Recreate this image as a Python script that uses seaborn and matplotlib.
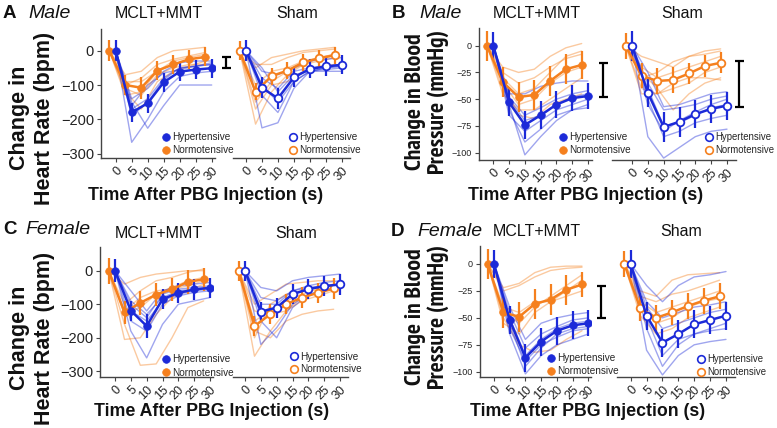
import numpy as np
import pandas as pd
import matplotlib
matplotlib.use("Agg")
import matplotlib.pyplot as plt
import seaborn as sns
from matplotlib import font_manager
from matplotlib.lines import Line2D
import matplotlib.transforms as mtrans

# ---------------- data ----------------
times = [0, 5, 10, 15, 20, 25, 30]
time_labels = ["0", "5", "10", "15", "20", "25", "30"]

hr_ticks = [0, -100, -200, -300]
hr_tick_labels = ["0", "\u2212100", "\u2212200", "\u2212300"]
bp_ticks = [0, -25, -50, -75, -100]
bp_tick_labels = ["0", "\u221225", "\u221250", "\u221275", "\u2212100"]

# Panel A: male heart rate
a_mclt_hyp = [0, -180, -153, -92, -61, -55, -51]
a_mclt_hyp_err = [30, 27, 28, 28, 27, 28, 28]
a_mclt_nor = [0, -100, -108, -58, -40, -25, -18]
a_mclt_nor_err = [30, 30, 32, 28, 28, 28, 28]
a_sham_hyp = [0, -108, -139, -78, -53, -46, -41]
a_sham_hyp_err = [30, 30, 30, 28, 28, 28, 28]
a_sham_nor = [0, -120, -74, -58, -34, -22, -13]
a_sham_nor_err = [27, 25, 25, 25, 25, 25, 25]
a_mclt_hyp_ind = [[0, -267, -200, -120, -75, -65, -60],
                  [0, -150, -226, -160, -100, -100, -100],
                  [0, -170, -140, -80, -50, -45, -40],
                  [0, -140, -110, -60, -35, -30, -30],
                  [0, -190, -150, -85, -50, -45, -35],
                  [0, -160, -100, -65, -55, -45, -40]]
a_mclt_nor_ind = [[0, -70, -60, -20, 0, 5, 10],
                  [0, -120, -170, -90, -60, -45, -30],
                  [0, -100, -80, -40, -25, -15, -5],
                  [0, -110, -130, -70, -50, -40, -40],
                  [0, -90, -90, -60, -40, -25, -20],
                  [0, -130, -120, -60, -30, -20, -10]]
a_sham_hyp_ind = [[0, -225, -210, -110, -60, -50, -45],
                  [0, -60, -70, -50, -30, -25, -20],
                  [0, -100, -150, -90, -60, -50, -45],
                  [0, -130, -180, -90, -60, -55, -50],
                  [0, -80, -110, -60, -50, -45, -40],
                  [0, -50, -120, -70, -60, -60, -60]]
a_sham_nor_ind = [[0, -214, -120, -70, -40, -20, -10],
                  [0, -50, -20, -10, 0, 5, 10],
                  [0, -150, -90, -60, -40, -30, -20],
                  [0, -100, -60, -50, -30, -20, -10],
                  [0, -170, -100, -90, -60, -45, -40],
                  [0, -40, -40, -20, -5, 0, 5]]

# Panel B: male blood pressure
b_mclt_hyp = [0, -53, -74, -65, -55, -49, -47]
b_mclt_hyp_err = [13, 13, 13, 13, 13, 12, 12]
b_mclt_nor = [0, -34, -48, -46, -33, -22, -18]
b_mclt_nor_err = [14, 14, 14, 14, 14, 14, 13]
b_sham_hyp = [0, -44, -76, -71, -64, -59, -56]
b_sham_hyp_err = [14, 13, 14, 14, 13, 13, 13]
b_sham_nor = [0, -28, -33, -32, -26, -19, -16]
b_sham_nor_err = [12, 12, 12, 12, 10, 10, 10]
b_mclt_hyp_ind = [[0, -45, -45, -38, -35, -33, -33],
                  [0, -55, -102, -85, -70, -60, -55],
                  [0, -50, -70, -65, -55, -48, -45],
                  [0, -60, -90, -78, -65, -60, -58],
                  [0, -48, -65, -58, -50, -45, -42],
                  [0, -65, -80, -70, -60, -55, -50]]
b_mclt_nor_ind = [[0, -20, -25, -22, -10, -2, 2],
                  [0, -40, -65, -68, -55, -50, -45],
                  [0, -30, -45, -40, -25, -10, -5],
                  [0, -35, -55, -50, -35, -25, -20],
                  [0, -25, -35, -30, -20, -12, -8],
                  [0, -45, -60, -60, -50, -40, -30]]
b_sham_hyp_ind = [[0, -25, -57, -55, -50, -45, -43],
                  [0, -85, -105, -95, -85, -80, -78],
                  [0, -40, -75, -72, -65, -58, -55],
                  [0, -50, -85, -80, -72, -68, -65],
                  [0, -35, -60, -58, -55, -50, -47],
                  [0, -55, -80, -70, -62, -55, -50]]
b_sham_nor_ind = [[0, -10, -15, -20, -10, -5, -3],
                  [0, -25, -40, -60, -45, -35, -30],
                  [0, -20, -30, -25, -20, -15, -10],
                  [0, -40, -45, -40, -35, -25, -20],
                  [0, -30, -25, -15, -10, -8, -5],
                  [0, -45, -45, -35, -30, -30, -32]]

# Panel C: female heart rate
c_mclt_hyp = [0, -119, -165, -85, -66, -56, -51]
c_mclt_hyp_err = [35, 30, 35, 30, 30, 30, 30]
c_mclt_nor = [0, -124, -96, -71, -56, -33, -26]
c_mclt_nor_err = [39, 35, 35, 35, 35, 35, 35]
c_sham_hyp = [0, -122, -110, -70, -55, -46, -41]
c_sham_hyp_err = [30, 30, 30, 30, 30, 30, 30]
c_sham_nor = [0, -165, -130, -100, -80, -66, -53]
c_sham_nor_err = [30, 30, 30, 30, 30, 30, 30]
c_mclt_hyp_ind = [[0, -60, -120, -60, -45, -40, -35],
                  [0, -180, -260, -160, -100, -90, -80],
                  [0, -120, -150, -90, -70, -60, -55],
                  [0, -100, -140, -70, -55, -50, -45],
                  [0, -150, -180, -100, -75, -65, -60],
                  [0, -90, -130, -80, -60, -55, -50]]
c_mclt_nor_ind = [[0, -40, -20, -10, -5, 0, 0],
                  [0, -205, -200, -130, -80, -60, -40],
                  [0, -160, -282, -278, -200, -110, -90],
                  [0, -100, -60, -30, -20, -5, 5],
                  [0, -130, -110, -70, -50, -30, -20],
                  [0, -120, -80, -60, -55, -45, -30]]
c_sham_hyp_ind = [[0, -50, -60, -30, -20, -15, -10],
                  [0, -220, -170, -100, -70, -60, -50],
                  [0, -150, -200, -110, -70, -60, -55],
                  [0, -100, -100, -60, -45, -35, -30],
                  [0, -130, -110, -70, -55, -45, -40],
                  [0, -80, -90, -60, -50, -45, -45]]
c_sham_nor_ind = [[0, -255, -180, -120, -90, -75, -60],
                  [0, -100, -70, -40, -35, -30, -30],
                  [0, -180, -200, -150, -130, -120, -115],
                  [0, -150, -120, -90, -70, -55, -45],
                  [0, -200, -100, -70, -60, -50, -40],
                  [0, -120, -130, -120, -80, -65, -50]]

# Panel D: female blood pressure
d_mclt_hyp = [0, -52, -87, -72, -62, -57, -55]
d_mclt_hyp_err = [13, 13, 13, 13, 13, 13, 12]
d_mclt_nor = [0, -45, -49, -37, -33, -24, -19]
d_mclt_nor_err = [14, 14, 14, 14, 14, 14, 12]
d_sham_hyp = [0, -48, -73, -65, -56, -52, -48]
d_sham_hyp_err = [13, 13, 13, 13, 13, 13, 13]
d_sham_nor = [0, -41, -50, -45, -39, -34, -30]
d_sham_nor_err = [12, 12, 12, 12, 12, 12, 12]
d_mclt_hyp_ind = [[0, -40, -70, -55, -50, -47, -45],
                  [0, -65, -102, -85, -75, -70, -65],
                  [0, -50, -85, -70, -60, -55, -53],
                  [0, -55, -95, -78, -65, -60, -58],
                  [0, -45, -78, -65, -58, -52, -50],
                  [0, -60, -90, -75, -68, -62, -60]]
d_mclt_nor_ind = [[0, -22, -18, -8, -3, -2, -2],
                  [0, -25, -20, -12, -6, -4, -3],
                  [0, -50, -75, -82, -80, -70, -62],
                  [0, -45, -55, -40, -30, -20, -10],
                  [0, -55, -65, -45, -35, -30, -25],
                  [0, -40, -45, -35, -35, -25, -15]]
d_sham_hyp_ind = [[0, -20, -35, -20, -12, -10, -7],
                  [0, -80, -103, -85, -75, -72, -70],
                  [0, -50, -85, -70, -65, -60, -55],
                  [0, -40, -60, -55, -50, -45, -42],
                  [0, -60, -95, -75, -65, -62, -60],
                  [0, -35, -50, -45, -40, -38, -35]]
d_sham_nor_ind = [[0, -25, -30, -15, -10, -9, -8],
                  [0, -48, -65, -60, -50, -45, -40],
                  [0, -35, -45, -40, -35, -30, -25],
                  [0, -40, -55, -50, -40, -35, -32],
                  [0, -30, -35, -28, -25, -20, -15]]

# significance brackets (value range)
a_sig = [-18, -51]
b_mclt_sig = [-16, -48]
b_sham_sig = [-14, -57]
d_mclt_sig = [-20, -50]

# ---------------- style ----------------
sns.set_theme(style="white")
bold_names = {f.name for f in font_manager.fontManager.ttflist
              if (isinstance(f.weight, int) and f.weight >= 700) or str(f.weight) in ("bold", "700", "800")}
NARROW = "Liberation Sans"
for cand in ["Liberation Sans Narrow", "Arial Narrow", "PT Sans Narrow", "Roboto Condensed",
             "Archivo Narrow", "Asap Condensed", "Barlow Condensed"]:
    if cand in bold_names:
        NARROW = cand
        break
HAS_NARROW = NARROW != "Liberation Sans"
plt.rcParams["font.family"] = ["Liberation Sans", "DejaVu Sans"]

BLUE = "#1c2ad8"
ORANGE = "#f5801e"
AXC = "#444444"

W, H = 777, 428
fig = plt.figure(figsize=(W / 100, H / 100), dpi=100)


def rect(x0, y0, x1, y1):
    return [x0 / W, 1 - y1 / H, (x1 - x0) / W, (y1 - y0) / H]


def fx(x):
    return x / W


def fy(y):
    return 1 - y / H


def draw(box, p0, p30, ylim, yticks, yticklabels, ytfs, sham, hyp, hyp_err, hyp_ind, nor, nor_err, nor_ind):
    ax = fig.add_axes(rect(*box))
    s = (p30 - p0) / 30.0
    ax.set_xlim((box[0] - p0) / s, (box[2] - p0) / s)
    ax.set_ylim(*ylim)
    groups = [(nor_ind, nor, nor_err, ORANGE, -2), (hyp_ind, hyp, hyp_err, BLUE, 0)]
    for ind, mean, err, col, off in groups:
        rows = [(i, t + off, v) for i, r in enumerate(ind) for t, v in zip(times, r)]
        df = pd.DataFrame(rows, columns=["unit", "x", "y"])
        sns.lineplot(data=df, x="x", y="y", units="unit", estimator=None, color=col,
                     alpha=0.42, lw=1.0, ax=ax, legend=False, zorder=1)
    for ind, mean, err, col, off in groups:
        xs = [t + off for t in times]
        ax.errorbar(xs, mean, yerr=err, fmt="none", ecolor=col, elinewidth=1.6, zorder=3)
        sns.lineplot(x=xs, y=mean, color=col, lw=1.8, marker="o", markersize=5.5,
                     markerfacecolor=("white" if sham else col), markeredgecolor=col,
                     markeredgewidth=(1.3 if sham else 0.5), ax=ax, zorder=4, legend=False)
    ax.set_xlabel("")
    ax.set_ylabel("")
    for sp in ["top", "right"]:
        ax.spines[sp].set_visible(False)
    ax.spines["bottom"].set_color(AXC)
    ax.spines["bottom"].set_linewidth(1.0)
    ax.set_xticks(times)
    ax.set_xticklabels(time_labels, rotation=45, ha="right", va="top",
                       rotation_mode="anchor", fontsize=9, color="#222222")
    if sham:
        ax.spines["left"].set_visible(False)
        ax.set_yticks([])
        ax.tick_params(axis="x", bottom=True, length=3, width=0.8, color=AXC, pad=2)
    else:
        ax.spines["left"].set_color(AXC)
        ax.spines["left"].set_linewidth(1.0)
        ax.set_yticks(yticks)
        ax.set_yticklabels(yticklabels, fontsize=ytfs, color="#222222")
        ax.tick_params(axis="both", bottom=True, left=True, length=3, width=0.8, color=AXC, pad=2)
    ax.patch.set_alpha(0)
    return ax


def legend(ax, sham, mx, my, fs=7.2):
    handles = []
    for col, lab in [(BLUE, "Hypertensive"), (ORANGE, "Normotensive")]:
        handles.append(Line2D([], [], ls="none", marker="o", ms=5.5,
                              mfc=("white" if sham else col), mec=col,
                              mew=(1.2 if sham else 0.5), label=lab))
    ax.legend(handles=handles, loc="center left", bbox_to_anchor=(fx(mx - 4), fy(my)),
              bbox_transform=fig.transFigure, frameon=False, fontsize=fs,
              handlelength=0.8, handletextpad=0.25, labelspacing=0.3,
              borderpad=0, borderaxespad=0)


def sig(ax, px, vals, box):
    tr = mtrans.blended_transform_factory(ax.transAxes, ax.transData)
    xa = (px - box[0]) / (box[2] - box[0])
    dx = 4.5 / (box[2] - box[0])
    lo, hi = vals
    kw = dict(transform=tr, clip_on=False, color="black", lw=1.6, solid_capstyle="butt")
    ax.plot([xa, xa], [lo, hi], **kw)
    ax.plot([xa - dx, xa + dx], [lo, lo], **kw)
    ax.plot([xa - dx, xa + dx], [hi, hi], **kw)


# boxes (pixels): x0, y0, x1, y1
A_M = (101, 29, 215, 158)
A_S = (233, 29, 350, 158)
B_M = (479, 28, 592, 160)
B_S = (612, 28, 736, 160)
C_M = (100, 247, 213, 377)
C_S = (233, 247, 348, 377)
D_M = (480, 246, 591, 377)
D_S = (617, 246, 735, 377)

ylA = (-312.8, 63.3)
ylB = (-106.8, 16.5)
ylC = (-317.0, 70.7)
ylD = (-104.9, 16.7)

axAM = draw(A_M, 115.7, 211.7, ylA, hr_ticks, hr_tick_labels, 10.5, False,
            a_mclt_hyp, a_mclt_hyp_err, a_mclt_hyp_ind, a_mclt_nor, a_mclt_nor_err, a_mclt_nor_ind)
axAS = draw(A_S, 246.0, 341.7, ylA, hr_ticks, hr_tick_labels, 10.5, True,
            a_sham_hyp, a_sham_hyp_err, a_sham_hyp_ind, a_sham_nor, a_sham_nor_err, a_sham_nor_ind)
axBM = draw(B_M, 493.3, 588.0, ylB, bp_ticks, bp_tick_labels, 6.5, False,
            b_mclt_hyp, b_mclt_hyp_err, b_mclt_hyp_ind, b_mclt_nor, b_mclt_nor_err, b_mclt_nor_ind)
axBS = draw(B_S, 632.0, 727.0, ylB, bp_ticks, bp_tick_labels, 6.5, True,
            b_sham_hyp, b_sham_hyp_err, b_sham_hyp_ind, b_sham_nor, b_sham_nor_err, b_sham_nor_ind)
axCM = draw(C_M, 115.0, 210.0, ylC, hr_ticks, hr_tick_labels, 10.5, False,
            c_mclt_hyp, c_mclt_hyp_err, c_mclt_hyp_ind, c_mclt_nor, c_mclt_nor_err, c_mclt_nor_ind)
axCS = draw(C_S, 245.0, 340.0, ylC, hr_ticks, hr_tick_labels, 10.5, True,
            c_sham_hyp, c_sham_hyp_err, c_sham_hyp_ind, c_sham_nor, c_sham_nor_err, c_sham_nor_ind)
axDM = draw(D_M, 494.0, 588.3, ylD, bp_ticks, bp_tick_labels, 6.5, False,
            d_mclt_hyp, d_mclt_hyp_err, d_mclt_hyp_ind, d_mclt_nor, d_mclt_nor_err, d_mclt_nor_ind)
axDS = draw(D_S, 630.7, 726.0, ylD, bp_ticks, bp_tick_labels, 6.5, True,
            d_sham_hyp, d_sham_hyp_err, d_sham_hyp_ind, d_sham_nor, d_sham_nor_err, d_sham_nor_ind)

legend(axAM, False, 166, 143.5)
legend(axAS, True, 293, 143.5)
legend(axBM, False, 563, 143.5)
legend(axBS, True, 709, 143.5, fs=6.9)
legend(axCM, False, 166, 366)
legend(axCS, True, 294, 363)
legend(axDM, False, 551, 364.5)
legend(axDS, True, 701, 365.5, fs=6.9)

sig(axAM, 226, a_sig, A_M)
sig(axBM, 603, b_mclt_sig, B_M)
sig(axBS, 739, b_sham_sig, B_S)
sig(axDM, 601, d_mclt_sig, D_M)

# titles
for x, y, t in [(159, 14, "MCLT+MMT"), (297, 14, "Sham"), (537, 14, "MCLT+MMT"), (682, 14, "Sham"),
                (159, 234, "MCLT+MMT"), (296, 234, "Sham"), (537, 232, "MCLT+MMT"), (681, 232, "Sham")]:
    fig.text(fx(x), fy(y), t, ha="center", va="center", fontsize=11.5, color="#111111")

# panel letters
for x, y, letter, word, wx in [(3, 14, "A", "Male", 28), (392, 14, "B", "Male", 419),
                               (3, 229, "C", "Female", 25), (391, 231, "D", "Female", 417)]:
    fig.text(fx(x), fy(y), letter, ha="left", va="center", fontsize=13.5, fontweight="bold", color="#111111")
    fig.text(fx(wx), fy(y), word, ha="left", va="center", fontsize=14, fontstyle="italic", color="#111111")

# x labels
for x, y in [(206, 196), (586, 196), (212, 411), (588, 411)]:
    fig.text(fx(x), fy(y), "Time After PBG Injection (s)", ha="center", va="center",
             fontsize=12.8, fontweight="bold", color="#111111")
# y labels
for x, y in [(32, 118), (32, 338)]:
    fig.text(fx(x), fy(y), "Change in\nHeart Rate (bpm)", ha="center", va="center", rotation=90,
             fontsize=15.5, fontweight="bold", linespacing=1.2, color="#111111")
bp_fs = 17 if HAS_NARROW else 12.8
for x, y in [(427, 102), (427, 317)]:
    fig.text(fx(x), fy(y), "Change in Blood\nPressure (mmHg)", ha="center", va="center", rotation=90,
             fontsize=bp_fs, fontweight="bold", linespacing=1.1,
             family=[NARROW, "DejaVu Sans"], color="#111111")

fig.savefig("out.png", dpi=100)
